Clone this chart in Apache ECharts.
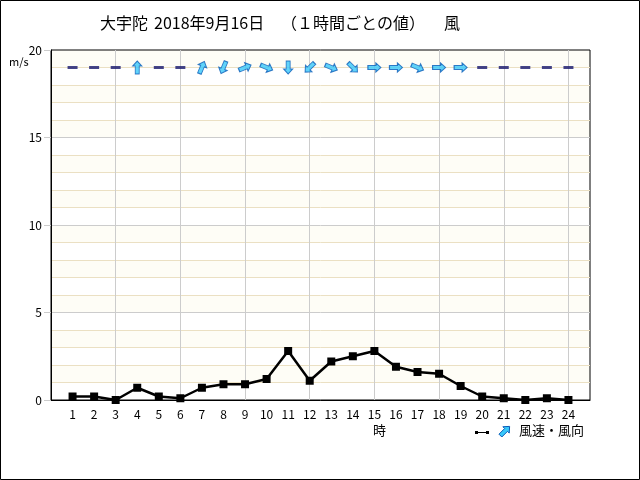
<!DOCTYPE html>
<html>
<head>
<meta charset="utf-8">
<script src="https://cdn.jsdelivr.net/npm/echarts@6/dist/echarts.min.js"></script>
<style>
html,body{margin:0;padding:0;background:#fff;}
#c{width:640px;height:480px;}
</style>
</head>
<body>
<div id="c"></div>
<script>
// ---- data ----
var hours = [1,2,3,4,5,6,7,8,9,10,11,12,13,14,15,16,17,18,19,20,21,22,23,24];
var windSpeed = [0.2,0.2,0.0,0.7,0.2,0.1,0.7,0.9,0.9,1.2,2.8,1.1,2.2,2.5,2.8,1.9,1.6,1.5,0.8,0.2,0.1,0.0,0.1,0.0];
var windDir = ['静穏','静穏','静穏','南','静穏','静穏','南南西','北北東','西南西','西北西','北','北東',
               '西北西','北西','西','西','西北西','西','西','静穏','静穏','静穏','静穏','静穏'];
var yTicks = [0,5,10,15,20];
var dirNames = ['北','北北東','北東','東北東','東','東南東','南東','南南東','南','南南西','南西','西南西','西','西北西','北西','北北西'];
var titleText = ['大宇陀','2018年9月16日','（１時間ごとの値）','風'];

var ARROW_ROW = 19;
var arrowPath = 'path://M0,-6.5 L4.5,-1.5 L2,-1.5 L2,6.5 L-2,6.5 L-2,-1.5 L-4.5,-1.5 Z';
var FONT = '"Noto Sans CJK JP", "DejaVu Sans", sans-serif';

var lineData = hours.map(function(h,i){ return [h, windSpeed[i]]; });
var arrowData = [], calmData = [];
hours.forEach(function(h,i){
  var d = windDir[i];
  if (d === '静穏') { calmData.push([h, ARROW_ROW]); }
  else {
    // arrow points where the wind blows to (opposite of where it comes from)
    var from = dirNames.indexOf(d) * 22.5;
    var to = (from + 180) % 360;
    arrowData.push({ value: [h, ARROW_ROW], symbolRotate: -to });
  }
});

// legend arrow icon polygon (pointing NE)
var iconPts = [[0,-6.5],[4.5,-1.5],[2,-1.5],[2,6.5],[-2,6.5],[-2,-1.5],[-4.5,-1.5]];
var ang = Math.PI/4;
var legendArrow = iconPts.map(function(p){
  var x = p[0]*Math.cos(ang) - p[1]*Math.sin(ang);
  var y = p[0]*Math.sin(ang) + p[1]*Math.cos(ang);
  return [505 + x, 431 + y];
});

var chart = echarts.init(document.getElementById('c'), null, {renderer:'canvas'});
chart.setOption({
  animation: false,
  backgroundColor: '#fff',
  textStyle: { fontFamily: FONT },
  grid: { left: 51, right: 50, top: 50, bottom: 80, show: true, borderColor: '#000', borderWidth: 1, backgroundColor: 'transparent' },
  xAxis: [{
    type: 'value', min: 0, max: 25, interval: 1,
    axisLine: { show: true, lineStyle: { color: '#000', width: 1 } },
    axisTick: { show: false },
    splitLine: { show: false },
    axisLabel: { color: '#000', fontSize: 12, fontFamily: FONT, margin: 8,
      formatter: function(v){ return hours.indexOf(v) >= 0 ? String(v) : ''; } }
  },{
    type: 'value', min: 0, max: 25, interval: 3, position: 'bottom', z: 1,
    axisLine: { show: false }, axisTick: { show: false }, axisLabel: { show: false },
    splitLine: { show: true, showMinLine: false, showMaxLine: false, lineStyle: { color: '#cccccc', width: 1 } }
  }],
  yAxis: [{
    type: 'value', min: 0, max: 20, interval: 5,
    axisLine: { show: true, lineStyle: { color: '#000' } },
    axisTick: { show: true, length: 7, lineStyle: { color: '#cccccc' } },
    axisLabel: { color: '#000', fontSize: 12, fontFamily: FONT, margin: 9,
      formatter: function(v){ return yTicks.indexOf(v) >= 0 ? String(v) : ''; } },
    splitLine: { show: true, showMinLine: false, showMaxLine: false, lineStyle: { color: '#cccccc', width: 1 } },
    minorTick: { show: true, splitNumber: 5, length: 0, lineStyle: { color: 'rgba(0,0,0,0)' } },
    minorSplitLine: { show: true, lineStyle: { color: '#ebe0c3', width: 1 } }
  },{
    type: 'value', min: 0, max: 20, interval: 1, position: 'left', z: -1,
    axisLine: { show: false }, axisTick: { show: false }, axisLabel: { show: false },
    splitLine: { show: false },
    splitArea: { show: true, areaStyle: { color: ['#ffffff', '#fefdf6'] } }
  }],
  graphic: [
    { type: 'rect', shape: { x: 0.5, y: 0.5, width: 639, height: 479 }, style: { fill: 'none', stroke: '#000', lineWidth: 1 }, z: 100 },
    { type: 'text', left: 100, top: 15, style: { text: titleText[0], font: '16px ' + FONT, fill: '#000' } },
    { type: 'text', left: 154, top: 15, style: { text: titleText[1], font: '16px ' + FONT, fill: '#000' } },
    { type: 'text', left: 281, top: 15, style: { text: titleText[2], font: '16px ' + FONT, fill: '#000' } },
    { type: 'text', left: 444, top: 15, style: { text: titleText[3], font: '16px ' + FONT, fill: '#000' } },
    { type: 'text', left: 9, top: 56, style: { text: 'm/s', font: '11px ' + FONT, fill: '#000' } },
    { type: 'text', left: 373, top: 424, style: { text: '時', font: '13px ' + FONT, fill: '#000' } },
    { type: 'line', shape: { x1: 476, y1: 432.5, x2: 488, y2: 432.5 }, style: { stroke: '#000', lineWidth: 1 } },
    { type: 'rect', shape: { x: 475, y: 431, width: 3, height: 3 }, style: { fill: '#000' } },
    { type: 'rect', shape: { x: 486, y: 431, width: 3, height: 3 }, style: { fill: '#000' } },
    { type: 'polygon', shape: { points: legendArrow }, style: { fill: '#38c8fa', stroke: '#0a5cb8', lineWidth: 1 } },
    { type: 'text', left: 519, top: 424, style: { text: '風速・風向', font: '13px ' + FONT, fill: '#000' } }
  ],
  series: [{
    type: 'line', xAxisIndex: 0, yAxisIndex: 0, data: lineData,
    lineStyle: { color: '#000', width: 2.5 },
    itemStyle: { color: '#000' },
    symbol: 'rect', symbolSize: 8, z: 5
  },{
    type: 'scatter', xAxisIndex: 0, yAxisIndex: 0, data: arrowData,
    symbol: arrowPath, symbolSize: [9, 13],
    itemStyle: { color: '#38c8fa', borderColor: '#0a5cb8', borderWidth: 1 }, z: 6
  },{
    type: 'scatter', xAxisIndex: 0, yAxisIndex: 0, data: calmData,
    symbol: 'rect', symbolSize: [10, 3],
    itemStyle: { color: '#16166e' }, z: 6
  }]
});
</script>
</body>
</html>
